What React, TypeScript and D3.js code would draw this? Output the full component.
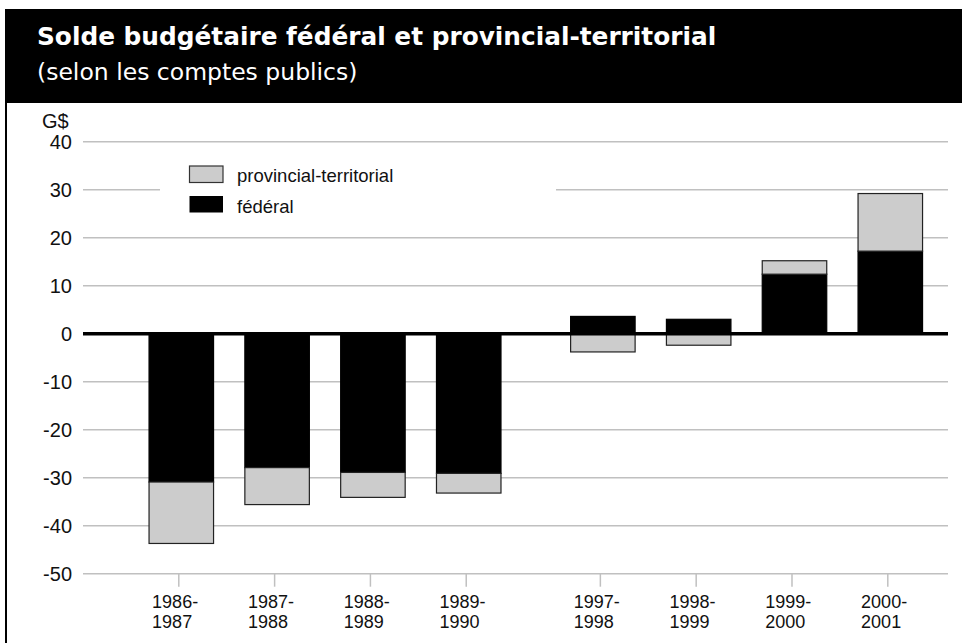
import React from "react";
import * as d3 from "d3";

const categories = ["1986-1987", "1987-1988", "1988-1989", "1989-1990", "1997-1998", "1998-1999", "1999-2000", "2000-2001"];
const federal = [-30.9, -27.9, -28.9, -29.1, 3.6, 3.0, 12.4, 17.2];
const provincial = [-12.8, -7.7, -5.2, -4.1, -3.8, -2.4, 2.8, 12.0];
const yTicks = [40, 30, 20, 10, 0, -10, -20, -30, -40, -50];
const seriesKeys = ["federal", "provincial"];
const legendLabels = ["provincial-territorial", "fédéral"];

const W = 962;
const H = 643;
const GROUP_GAP = 0.4;

export default function App() {
  const rows = categories.map((c, i) => ({ cat: c, federal: federal[i], provincial: provincial[i], slot: i + (i >= 4 ? GROUP_GAP : 0) }));
  const stack = d3.stack<any>().keys(seriesKeys).offset(d3.stackOffsetDiverging);
  const stacked = stack(rows);

  const x = d3.scaleLinear().domain([0, 7 + GROUP_GAP]).range([181.3, 890.3]);
  const bw = 64.5;
  const y = d3.scaleLinear().domain([-50, 40]).range([573.7, 141.7]);
  const gx0 = 83;
  const gx1 = 948;
  const font = "'Liberation Sans', Arial, sans-serif";
  const colors: Record<string, string> = { federal: "#000000", provincial: "#cccccc" };

  return (
    <svg width={W} height={H} style={{ position: "absolute", left: 0, top: 0 }} fontFamily={font}>
      <rect x={0} y={0} width={W} height={H} fill="#fff" />
      {/* title band */}
      <rect x={6} y={9} width={W - 6} height={94} fill="#000" />
      <line x1={6} y1={9} x2={6} y2={H} stroke="#000" strokeWidth={2} />
      <text x={37} y={45} fill="#fff" fontFamily="'DejaVu Sans', sans-serif" fontWeight="bold" fontSize={24.8}>
        Solde budgétaire fédéral et provincial-territorial
      </text>
      <text x={37} y={80} fill="#fff" fontFamily="'DejaVu Sans', sans-serif" fontSize={23.5}>
        (selon les comptes publics)
      </text>

      {/* gridlines */}
      {yTicks.filter((t) => t !== 0).map((t) => (
        <line key={"g" + t} x1={gx0} x2={gx1} y1={y(t)} y2={y(t)} stroke="#c0c0c0" strokeWidth={1.5} />
      ))}
      {yTicks.map((t) => (
        <text key={"yl" + t} x={72} y={y(t)} dy="0.36em" textAnchor="end" fontSize={20} fill="#111">
          {t}
        </text>
      ))}
      <text x={42} y={128} fontSize={20} fill="#111">G$</text>

      {/* legend box */}
      <rect x={160} y={155} width={396} height={70} fill="#fff" />
      <rect x={189.5} y={166} width={33.5} height={16.5} fill="#cccccc" stroke="#333" strokeWidth={1.2} />
      <text x={237} y={182} fontSize={18.5} fill="#111">{legendLabels[0]}</text>
      <rect x={189.5} y={196} width={33.5} height={16.5} fill="#000" />
      <text x={237} y={212.5} fontSize={18.5} fill="#111">{legendLabels[1]}</text>

      {/* bars */}
      {stacked.map((s) => (
        <g key={s.key}>
          {s.map((d: any, i: number) => {
            const y0 = y(Math.max(d[0], d[1]));
            const y1 = y(Math.min(d[0], d[1]));
            return (
              <rect
                key={i}
                x={x(d.data.slot) - bw / 2}
                y={y0}
                width={bw}
                height={y1 - y0}
                fill={colors[s.key]}
                stroke={s.key === "provincial" ? "#222" : "#000"}
                strokeWidth={1.2}
              />
            );
          })}
        </g>
      ))}

      {/* zero line */}
      <line x1={gx0} x2={gx1} y1={y(0)} y2={y(0)} stroke="#000" strokeWidth={3.5} />

      {/* x ticks and labels */}
      {rows.map((r) => {
        const tx = x(r.slot) - 2.5;
        const [a, b] = r.cat.split("-");
        return (
          <g key={r.cat}>
            <line x1={tx} x2={tx} y1={y(-50)} y2={y(-50) + 13} stroke="#c0c0c0" strokeWidth={1.5} />
            <text x={tx - 26.7} y={608.3} fontSize={18} fill="#111">{a + "-"}</text>
            <text x={tx - 26.7} y={628.3} fontSize={18} fill="#111">{b}</text>
          </g>
        );
      })}
    </svg>
  );
}
